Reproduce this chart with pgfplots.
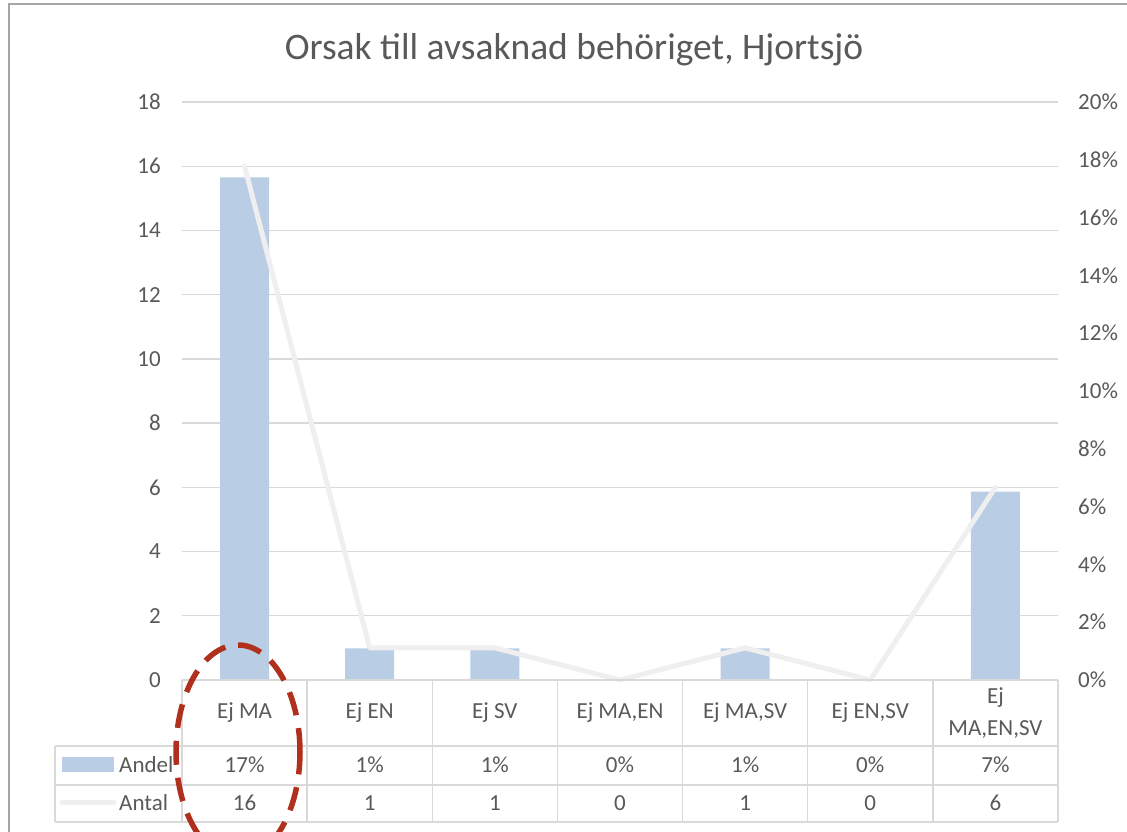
\documentclass[border=0pt]{standalone}
\usepackage{pgfplots}
\pgfplotsset{compat=1.18}
\usepackage{pgfplotstable}
\usepackage{fontspec}
\setmainfont{Carlito}
\definecolor{txt}{HTML}{595959}
\definecolor{gridc}{HTML}{D9D9D9}
\definecolor{barc}{HTML}{B9CDE5}
\definecolor{linec}{HTML}{EFEFEF}
\definecolor{framec}{HTML}{A6A6A6}
\definecolor{ellc}{HTML}{B0301E}

\pgfplotstableread{
x andel antal
0 17.39 16
1 1.09 1
2 1.09 1
3 0 0
4 1.09 1
5 0 0
6 6.52 6
}\data

\pgfplotsset{base/.style={
  at={(182pt,152pt)}, anchor=south west, scale only axis,
  width=876pt, height=578pt, xmin=-0.5, xmax=6.5,
  axis line style={draw=none}, major tick length=0pt, xtick=\empty,
  /pgf/number format/assume math mode=true,
  ticklabel style={font=\fontsize{23}{26}\selectfont, text=txt},
}}

\begin{document}
\begin{tikzpicture}[x=1pt,y=1pt]
\useasboundingbox (0,0) rectangle (1127,832);
\draw[framec, line width=2pt] (9,-5) -- (9,828) -- (1135,828);
\node[font=\fontsize{37.5}{42}\selectfont, text=txt] at (574,782) {Orsak till avsaknad behöriget, Hjortsjö};

% left axis with gridlines
\begin{axis}[base, ymin=0, ymax=18, ytick={0,2,...,18}, ymajorgrids,
  grid style={gridc, line width=1.3pt},
  yticklabel style={inner sep=0pt, anchor=east, xshift=-21pt}]
\end{axis}

% right axis with bars (Andel)
\begin{axis}[base, ymin=0, ymax=20, ytick={0,2,...,20},
  ytick pos=right, yticklabel pos=right,
  yticklabel={\pgfmathprintnumber{\tick}\%},
  yticklabel style={inner sep=0pt, anchor=west, xshift=20pt},
  ybar, bar width=49pt]
\addplot[fill=barc, draw=none] table[x=x, y=andel]{\data};
\end{axis}

% left axis line (Antal)
\begin{axis}[base, ymin=0, ymax=18, ytick=\empty, clip=false]
\addplot[linec, line width=5pt, line join=round, line cap=round] table[x=x, y=antal]{\data};
\end{axis}

% data table
\begin{scope}[gridc, line width=1.5pt]
\draw (182,152) -- (1058,152);
\draw (55,86) -- (1058,86);
\draw (55,47) -- (1058,47);
\draw (55,10) -- (1058,10);
\draw (55,86) -- (55,10);
\foreach \k in {0,...,7} {\draw ({182+\k*125.14},152) -- ({182+\k*125.14},10);}
\end{scope}

\begin{scope}[font=\fontsize{23}{26}\selectfont, text=txt]
\foreach \name [count=\i from 0] in {Ej MA, Ej EN, Ej SV, {Ej MA,EN}, {Ej MA,SV}, {Ej EN,SV}}
  {\node at ({244.57+\i*125.14},119) {\name};}
\node[align=center, font=\fontsize{23}{32}\selectfont] at ({244.57+6*125.14},119) {Ej\\MA,EN,SV};
\foreach \v [count=\i from 0] in {17,1,1,0,1,0,7}
  {\node at ({244.57+\i*125.14},67) {\v\%};}
\foreach \v [count=\i from 0] in {16,1,1,0,1,0,6}
  {\node at ({244.57+\i*125.14},29) {\v};}
\fill[barc] (62,60) rectangle (114,75);
\node[anchor=west, inner sep=0pt] at (119,67) {Andel};
\draw[linec, line width=5pt, line cap=round] (62,29) -- (114,29);
\node[anchor=west, inner sep=0pt] at (119,29) {Antal};
\end{scope}

\begin{scope}
\clip (0,0) rectangle (1127,832);
\draw[ellc, line width=5.5pt, dash pattern=on 24pt off 13pt] (238,80) ellipse [x radius=62, y radius=107];
\end{scope}
\end{tikzpicture}
\end{document}
